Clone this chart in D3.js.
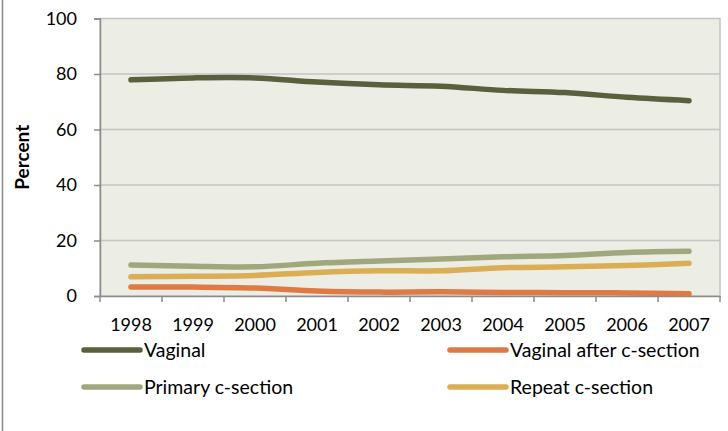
<!DOCTYPE html>
<html>
<head>
<meta charset="utf-8">
<script src="https://cdn.jsdelivr.net/npm/d3@7/dist/d3.min.js"></script>
<style>
  html, body { margin: 0; padding: 0; background: #fff; }
  svg { display: block; }
  text { font-family: Lato, "Open Sans", sans-serif; fill: #000; }
</style>
</head>
<body>
<svg id="chart" width="728" height="431"></svg>
<script>
// Method of delivery, percent of births, 1998-2007
const years = ["1998", "1999", "2000", "2001", "2002", "2003", "2004", "2005", "2006", "2007"];
const vaginal = [77.9, 78.6, 78.6, 77.1, 76.1, 75.6, 74.1, 73.3, 71.6, 70.4];
const vbac = [3.2, 3.2, 2.9, 1.8, 1.4, 1.5, 1.3, 1.2, 1.1, 0.8];
const primaryCs = [11.2, 10.7, 10.5, 11.8, 12.6, 13.3, 14.1, 14.6, 15.7, 16.1];
const repeatCs = [6.9, 7.1, 7.4, 8.5, 9.1, 9.1, 10.2, 10.5, 11.0, 11.8];
const yTicks = [0, 20, 40, 60, 80, 100];

const series = [
  { name: "Vaginal", values: vaginal, color: "#5b5f3b" },
  { name: "Vaginal after c-section", values: vbac, color: "#df7a44" },
  { name: "Primary c-section", values: primaryCs, color: "#a0a77c" },
  { name: "Repeat c-section", values: repeatCs, color: "#dbae56" }
];

const svg = d3.select("#chart");
const plot = { left: 100, right: 720, top: 18.5, bottom: 296 };

// Outer frame edge
svg.append("line")
  .attr("x1", 2.5).attr("x2", 2.5).attr("y1", 0).attr("y2", 431)
  .attr("stroke", "#8c8c8c").attr("stroke-width", 1.5);

const x = d3.scaleBand().domain(years).range([plot.left, plot.right]);
const y = d3.scaleLinear().domain([0, 100]).range([plot.bottom, plot.top]);

// Plot background
svg.append("rect")
  .attr("x", plot.left).attr("y", plot.top)
  .attr("width", plot.right - plot.left).attr("height", plot.bottom - plot.top)
  .attr("fill", "#ecede5")
  .attr("stroke", "#c4c4c4").attr("stroke-width", 1.5);

// Horizontal gridlines
svg.append("g").selectAll("line")
  .data(yTicks.filter(t => t > 0 && t < 100))
  .join("line")
  .attr("x1", plot.left).attr("x2", plot.right)
  .attr("y1", d => y(d)).attr("y2", d => y(d))
  .attr("stroke", "#c4c4c4").attr("stroke-width", 1.5);

// Y axis
const yAxis = svg.append("g")
  .attr("transform", `translate(${plot.left},0)`)
  .call(d3.axisLeft(y).tickValues(yTicks).tickSize(6).tickPadding(17));
yAxis.select(".domain").attr("stroke", "#8c8c8c").attr("stroke-width", 1.5);
yAxis.selectAll(".tick line").attr("stroke", "#8c8c8c").attr("stroke-width", 1.5);
yAxis.selectAll(".tick text")
  .style("font-family", "Lato, 'Open Sans', sans-serif")
  .attr("font-size", 18).attr("fill", "#000");

// X axis with ticks between categories
const xAxis = svg.append("g")
  .attr("transform", `translate(0,${plot.bottom})`)
  .call(d3.axisBottom(x).tickSize(0).tickPadding(22));
xAxis.select(".domain").attr("stroke", "#8c8c8c").attr("stroke-width", 1.5);
xAxis.selectAll(".tick text")
  .style("font-family", "Lato, 'Open Sans', sans-serif")
  .attr("font-size", 18).attr("fill", "#000");
xAxis.append("g").selectAll("line")
  .data(years.map(d => x(d)).concat([x(years[years.length - 1]) + x.bandwidth()]))
  .join("line")
  .attr("x1", d => d).attr("x2", d => d)
  .attr("y1", 0).attr("y2", 6)
  .attr("stroke", "#8c8c8c").attr("stroke-width", 1.5);

// Y axis title
svg.append("text")
  .attr("transform", `translate(22,${(plot.top + plot.bottom) / 2}) rotate(-90)`)
  .attr("text-anchor", "middle")
  .attr("dy", "0.35em")
  .attr("font-size", 19).attr("font-weight", "bold")
  .text("Percent");

// Series lines
const line = d3.line()
  .x((d, i) => x(years[i]) + x.bandwidth() / 2)
  .y(d => y(d))
  .curve(d3.curveCatmullRom.alpha(0.5));

svg.append("g").selectAll("path")
  .data(series)
  .join("path")
  .attr("d", d => line(d.values))
  .attr("fill", "none")
  .attr("stroke", d => d.color)
  .attr("stroke-width", 5.5)
  .attr("stroke-linecap", "round")
  .attr("stroke-linejoin", "round");

// Legend, two columns
const legendPos = [
  { x: 84, y: 350 }, { x: 450, y: 350 },
  { x: 84, y: 387 }, { x: 450, y: 387 }
];
const legend = svg.append("g").selectAll("g")
  .data(series)
  .join("g")
  .attr("transform", (d, i) => `translate(${legendPos[i].x},${legendPos[i].y})`);
legend.append("line")
  .attr("x1", 0).attr("x2", 56).attr("y1", 0).attr("y2", 0)
  .attr("stroke", d => d.color).attr("stroke-width", 5.5)
  .attr("stroke-linecap", "round");
legend.append("text")
  .attr("x", 60).attr("y", 0).attr("dy", "0.35em")
  .attr("font-size", 19.5)
  .text(d => d.name);
</script>
</body>
</html>
